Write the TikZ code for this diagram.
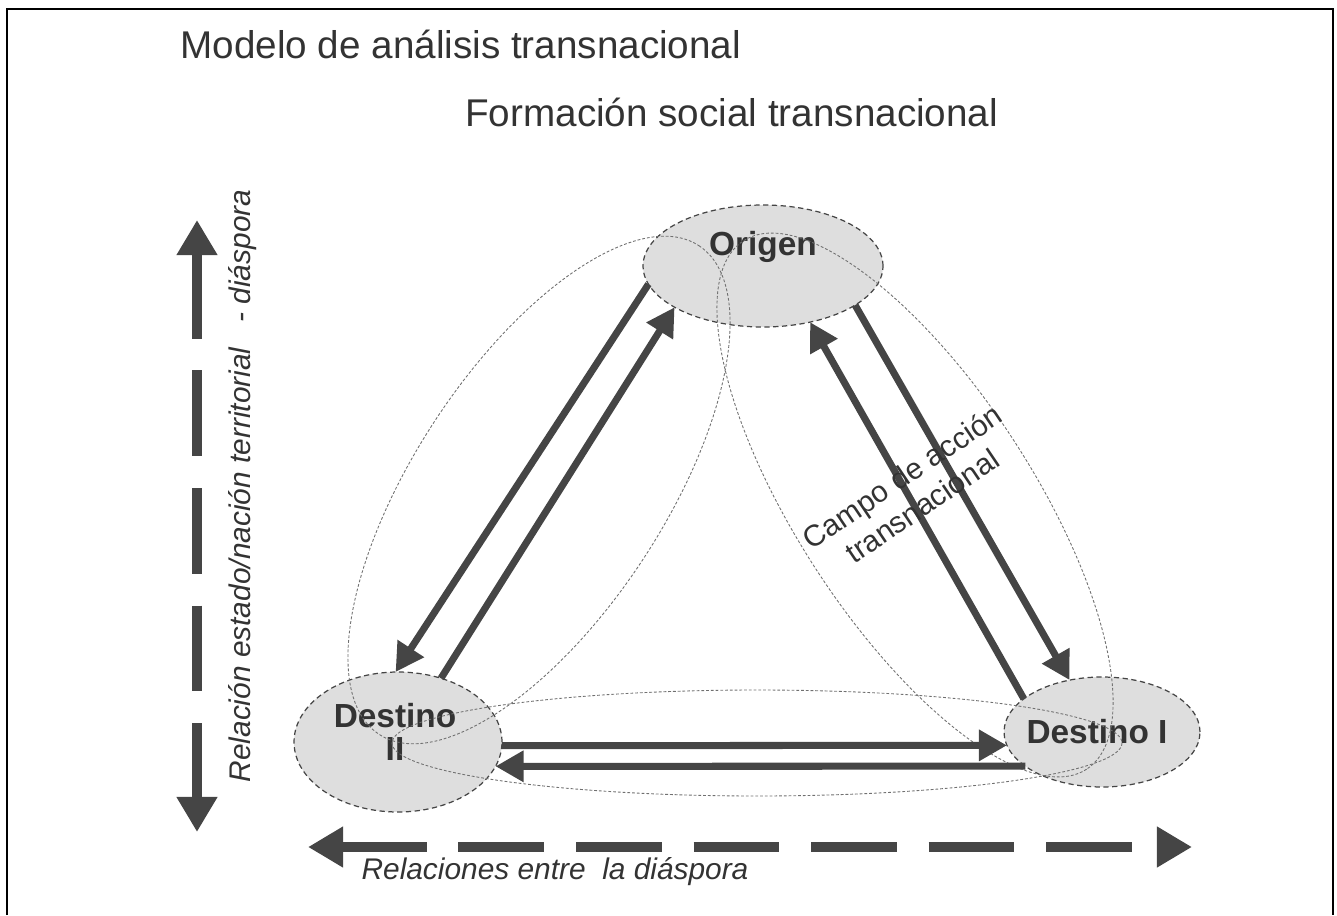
\documentclass[tikz,border=0pt]{standalone}
\usepackage{fontspec}
\setmainfont{Liberation Sans}
\usepackage{xcolor}
\usetikzlibrary{shapes.geometric,arrows.meta,positioning,calc}
\definecolor{flowgray}{HTML}{454545}
\definecolor{placefill}{HTML}{DEDEDE}
\definecolor{fieldline}{HTML}{707070}
\definecolor{inkgray}{HTML}{333333}
\tikzset{
  place/.style={ellipse, draw=flowgray, densely dashed, line width=0.7pt, fill=placefill, inner sep=0pt, outer sep=0pt},
  placetext/.style={font=\bfseries\fontsize{19}{19}\selectfont, text=inkgray, align=center, inner sep=0pt},
  field/.style={draw=fieldline, dash pattern=on 1.6pt off 1.1pt, line width=0.5pt},
  flow/.style={draw=flowgray, line width=4pt, -{Triangle[length=16pt,width=17pt]}},
  axis/.style={draw=flowgray, line width=6.2pt, dash pattern=on 48.8pt off 18.1pt,
    {Triangle[length=20pt,width=22pt]}-{Triangle[length=20pt,width=22pt]}},
  title/.style={font=\fontsize{22}{26}\selectfont, text=inkgray, anchor=west, inner sep=0pt},
  axistext/.style={font=\itshape\fontsize{17}{20}\selectfont, text=inkgray, inner sep=0pt},
  fieldtext/.style={font=\fontsize{17}{20}\selectfont, text=inkgray, inner sep=0pt, align=center},
}
\begin{document}
\begin{tikzpicture}[x=0.02cm, y=-0.02cm]
    \useasboundingbox (0,0) rectangle (1337,915);
    \draw[line width=1.6pt] (7,915) -- (7,9) -- (1333,9) -- (1333,915);

    % titles
    \node[title] (modelo) at (180,44) {Modelo de análisis transnacional};
    \node[title] (formacion) at (465,112) {Formación social transnacional};

    % places
    \node[place, minimum width=4.8cm, minimum height=2.44cm,
      label={[placetext, name=origenname, yshift=0.38cm]center:Origen}] (origen) at (763,266) {};
    \node[place, minimum width=4.16cm, minimum height=2.8cm,
      label={[placetext, name=destIIname, yshift=0.2cm, xshift=-0.06cm]center:Destino\\II}] (destII) at (398,742) {};
    \node[place, minimum width=3.92cm, minimum height=2.2cm,
      label={[placetext, name=destIname, xshift=-0.1cm]center:Destino I}] (destI) at (1102,732) {};

    % fields of action
    \draw[field, rotate around={56.8:(539,490)}] (539,490) ellipse [x radius=292, y radius=125];
    \draw[field, rotate around={-57:(915,505)}] (915,505) ellipse [x radius=315, y radius=118];
    \draw[field] (757,743) ellipse [x radius=365, y radius=53];

    % flows
    \foreach \from/\to in {origen.189/destII.92, destII.56/origen.205, destI.157/origen.310,
                           origen.337/destI.122, destII.358/destI.188, destI.204/destII.346}
        \draw[flow] (\from) -- (\to);

    \node[fieldtext, rotate=34] (campo) at (912,491) {Campo de acción\\transnacional};

    % axes
    \coordinate (vtop) at (197,220);
    \coordinate (vbot) at (197,832);
    \draw[axis] (vtop) -- (vbot);
    \node[axistext, rotate=90] (vlabel) at (243,486) {Relación estado/nación territorial \ \ - diáspora};

    \coordinate (hleft) at (308,847);
    \coordinate (hright) at (1192,847);
    \draw[axis] (hleft) -- (hright);
    \node[axistext] (hlabel) at (555,872) {Relaciones entre \ la diáspora};
\end{tikzpicture}
\end{document}
